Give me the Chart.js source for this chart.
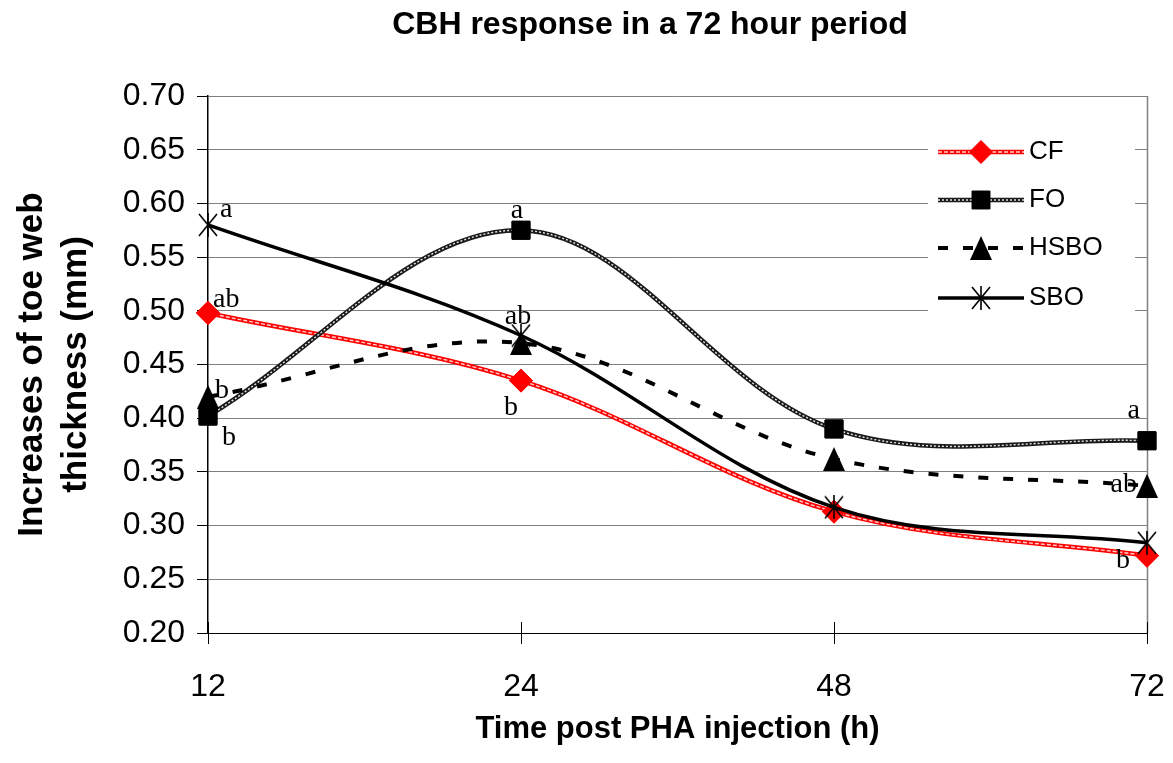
<!DOCTYPE html>
<html><head><meta charset="utf-8">
<script src="https://cdn.jsdelivr.net/npm/chart.js@4.4.1/dist/chart.umd.min.js"></script>
<style>html,body{margin:0;padding:0;background:#fff}canvas{display:block}</style>
</head><body>
<canvas id="c" width="1173" height="763"></canvas>
<script>
// ---------- data ----------
const chartTitle = 'CBH response in a 72 hour period';
const xTitle = 'Time post PHA injection (h)';
const yTitle = ['Increases of toe web', 'thickness (mm)'];
const timeLabels = ['12', '24', '48', '72'];
const seriesNames = ['CF', 'FO', 'HSBO', 'SBO'];
const cfValues   = [0.498, 0.435, 0.313, 0.272];
const foValues   = [0.402, 0.575, 0.390, 0.379];
const hsboValues = [0.420, 0.470, 0.362, 0.337];
const sboValues  = [0.580, 0.477, 0.317, 0.284];
const yTickValues = [0.20, 0.25, 0.30, 0.35, 0.40, 0.45, 0.50, 0.55, 0.60, 0.65, 0.70];
const yTickLabels = ['0.20', '0.25', '0.30', '0.35', '0.40', '0.45', '0.50', '0.55', '0.60', '0.65', '0.70'];
// significance letters: series index, time index, letter
const sigSeries  = [3, 0, 2, 1, 1, 2, 0, 1, 2, 0];
const sigTime    = [0, 0, 0, 0, 1, 1, 1, 3, 3, 3];
const sigLetters = ['a', 'ab', 'b', 'b', 'a', 'ab', 'b', 'a', 'ab', 'b'];

// ---------- styling ----------
const SANS = "'Liberation Sans', Arial, sans-serif";
const SERIF = "'Liberation Serif', 'Times New Roman', serif";
// letter placement offsets (dx, dy from the point, text alignment)
const sigPlacement = [
  [12, -8, 'left'], [5, -6, 'left'], [7, 1, 'left'], [14, 29, 'left'],
  [-4, -12, 'center'], [-3, -19, 'center'], [-10, 34, 'center'],
  [-7, -23, 'right'], [-10, 6, 'right'], [-17, 12, 'right']
];

function makeTriangle() {
  const c = document.createElement('canvas'); c.width = 22; c.height = 24;
  const g = c.getContext('2d'); g.fillStyle = '#000';
  g.beginPath(); g.moveTo(11, 0); g.lineTo(22, 24); g.lineTo(0, 24); g.closePath(); g.fill();
  return c;
}
function makeStar() {
  const c = document.createElement('canvas'); c.width = 20; c.height = 24;
  const g = c.getContext('2d'); g.strokeStyle = '#000'; g.lineWidth = 1.6;
  g.beginPath();
  g.moveTo(1, 1); g.lineTo(19, 23);
  g.moveTo(19, 1); g.lineTo(1, 23);
  g.moveTo(10, 0); g.lineTo(10, 24);
  g.stroke();
  return c;
}
const triImg = makeTriangle();
const starImg = makeStar();

const seriesValues = [cfValues, foValues, hsboValues, sboValues];
const seriesStyles = [
  { color: '#ff0000', width: 4.5, dash: [], point: 'rectRot', radius: 11.5, fill: '#ff0000', inner: { color: '#ffd0d0', width: 1.4, dash: [4, 2] }, order: 4 },
  { color: '#1a1a1a', width: 4.5, dash: [], point: 'rect', radius: 12.7, fill: '#000', inner: { color: '#e8e8e8', width: 1.4, dash: [2, 2] }, order: 3 },
  { color: '#000', width: 4, dash: [10, 15], point: triImg, radius: 10, fill: '#000', inner: null, order: 2 },
  { color: '#000', width: 3.5, dash: [], point: starImg, radius: 10, fill: '#000', inner: null, order: 1 }
];

const datasets = seriesNames.map((name, i) => {
  const s = seriesStyles[i];
  return {
    label: name,
    data: seriesValues[i],
    borderColor: s.color,
    borderWidth: s.width,
    borderDash: s.dash,
    borderCapStyle: 'butt',
    borderJoinStyle: 'round',
    pointStyle: s.point,
    pointRadius: s.radius,
    pointHoverRadius: s.radius,
    pointBackgroundColor: s.fill,
    pointBorderColor: s.fill,
    pointBorderWidth: 1,
    tension: 0.35,
    clip: false,
    order: s.order,
    innerStroke: s.inner
  };
});

// ---------- plugins ----------
const titlePlugin = {
  id: 'topTitle',
  afterDraw(chart) {
    const ctx = chart.ctx;
    ctx.save();
    ctx.fillStyle = '#000';
    ctx.font = 'bold 32px ' + SANS;
    ctx.textAlign = 'center';
    ctx.textBaseline = 'middle';
    ctx.fillText(chartTitle, 650, 25);
    ctx.restore();
  }
};

const framePlugin = {
  id: 'frame',
  beforeDatasetsDraw(chart) {
    const { ctx, chartArea: a, scales: { x } } = chart;
    ctx.save();
    ctx.strokeStyle = '#808080'; ctx.lineWidth = 1.5;
    ctx.beginPath(); ctx.moveTo(a.right + 0.5, a.top); ctx.lineTo(a.right + 0.5, a.bottom); ctx.stroke();
    ctx.strokeStyle = '#000'; ctx.lineWidth = 1;
    ctx.beginPath();
    x.ticks.forEach((t, i) => {
      const px = Math.round(x.getPixelForTick(i)) + 0.5;
      ctx.moveTo(px, a.bottom - 11); ctx.lineTo(px, a.bottom);
    });
    ctx.stroke();
    ctx.restore();
  }
};

const innerStrokePlugin = {
  id: 'innerStroke',
  afterDatasetDraw(chart, args) {
    const ds = chart.data.datasets[args.index];
    const inner = ds.innerStroke;
    if (!inner) return;
    const ctx = chart.ctx;
    const line = args.meta.dataset;
    ctx.save();
    ctx.beginPath();
    line.path(ctx);
    ctx.lineWidth = inner.width;
    ctx.strokeStyle = inner.color;
    ctx.setLineDash(inner.dash);
    ctx.lineCap = 'butt';
    ctx.stroke();
    ctx.restore();
    args.meta.data.forEach(pt => pt.draw(ctx));
  }
};

function drawMarker(ctx, style, x, y, ds) {
  ctx.save();
  if (style instanceof HTMLCanvasElement) {
    ctx.drawImage(style, Math.round(x - style.width / 2), Math.round(y - style.height / 2));
  } else {
    const r = ds.pointRadius;
    ctx.fillStyle = ds.pointBackgroundColor;
    ctx.strokeStyle = ds.pointBorderColor;
    ctx.lineWidth = 1;
    ctx.beginPath();
    if (style === 'rectRot') {
      ctx.moveTo(x, y - r); ctx.lineTo(x + r, y); ctx.lineTo(x, y + r); ctx.lineTo(x - r, y); ctx.closePath();
    } else {
      const h = r * Math.SQRT1_2;
      ctx.rect(x - h, y - h, 2 * h, 2 * h);
    }
    ctx.fill(); ctx.stroke();
  }
  ctx.restore();
}

const legendPlugin = {
  id: 'boxLegend',
  afterDatasetsDraw(chart) {
    const { ctx, chartArea: a } = chart;
    const boxL = a.right - 219, boxT = a.top + 28, boxR = a.right - 12, boxB = a.top + 244;
    ctx.save();
    ctx.fillStyle = '#fff';
    ctx.fillRect(boxL, boxT, boxR - boxL, boxB - boxT);
    const x1 = boxL + 10, x2 = boxL + 96, mx = boxL + 53, tx = boxL + 101;
    const rowY = [boxT + 28, boxT + 76, boxT + 124, boxT + 174];
    chart.data.datasets.forEach((ds, i) => {
      const y = rowY[i];
      ctx.save();
      ctx.strokeStyle = ds.borderColor; ctx.lineWidth = ds.borderWidth;
      ctx.setLineDash(ds.borderDash); ctx.lineCap = 'butt';
      ctx.beginPath(); ctx.moveTo(x1, y); ctx.lineTo(x2, y); ctx.stroke();
      if (ds.innerStroke) {
        ctx.strokeStyle = ds.innerStroke.color; ctx.lineWidth = ds.innerStroke.width;
        ctx.setLineDash(ds.innerStroke.dash);
        ctx.beginPath(); ctx.moveTo(x1, y); ctx.lineTo(x2, y); ctx.stroke();
      }
      ctx.restore();
      drawMarker(ctx, ds.pointStyle, mx, y, ds);
      ctx.fillStyle = '#000';
      ctx.font = '26px ' + SANS;
      ctx.textBaseline = 'middle'; ctx.textAlign = 'left';
      ctx.fillText(ds.label, tx, y);
    });
    ctx.restore();
  }
};

const lettersPlugin = {
  id: 'sigLetters',
  afterDatasetsDraw(chart) {
    const { ctx, scales: { x, y } } = chart;
    ctx.save();
    ctx.fillStyle = '#000';
    ctx.font = '28px ' + SERIF;
    ctx.textBaseline = 'alphabetic';
    sigLetters.forEach((txt, k) => {
      const s = sigSeries[k], t = sigTime[k];
      const px = x.getPixelForValue(t);
      const py = y.getPixelForValue(seriesValues[s][t]);
      const [dx, dy, align] = sigPlacement[k];
      ctx.textAlign = align;
      ctx.fillText(txt, px + dx, py + dy);
    });
    ctx.restore();
  }
};

new Chart(document.getElementById('c'), {
  type: 'line',
  data: { labels: timeLabels, datasets },
  options: {
    responsive: false,
    animation: false,
    events: [],
    layout: { padding: { left: 0, right: 26, top: 96, bottom: 0 } },
    plugins: {
      legend: { display: false },
      tooltip: { enabled: false },
      title: { display: false }
    },
    scales: {
      x: {
        type: 'category',
        offset: false,
        afterFit: s => { s.height = 130; s.paddingRight = 0; s.paddingLeft = 0; },
        grid: { display: true, drawOnChartArea: false, drawTicks: true, tickLength: 11, color: '#000', tickColor: '#000' },
        border: { display: true, color: '#000', width: 1 },
        ticks: { color: '#000', font: { family: SANS, size: 32 }, padding: 24, maxRotation: 0 },
        title: {
          display: true, text: xTitle, color: '#000',
          font: { family: SANS, size: 31, weight: 'bold', lineHeight: 1.2 },
          padding: { top: 0, bottom: 15 }
        }
      },
      y: {
        min: 0.2, max: 0.7,
        afterFit: s => { s.width = 208; },
        afterBuildTicks: s => { s.ticks = yTickValues.map(v => ({ value: v })); },
        grid: { color: '#808080', lineWidth: 1, tickLength: 11, tickColor: '#000' },
        border: { display: true, color: '#000', width: 1.5 },
        ticks: { color: '#000', font: { family: SANS, size: 32 }, padding: 12,
                 callback: (v, i) => yTickLabels[i] },
        title: {
          display: true, text: yTitle, color: '#000',
          font: { family: SANS, size: 35, weight: 'bold', lineHeight: 1.26 },
          padding: { top: 10, bottom: 0 }
        }
      }
    }
  },
  plugins: [titlePlugin, framePlugin, innerStrokePlugin, legendPlugin, lettersPlugin]
});
</script>
</body></html>
